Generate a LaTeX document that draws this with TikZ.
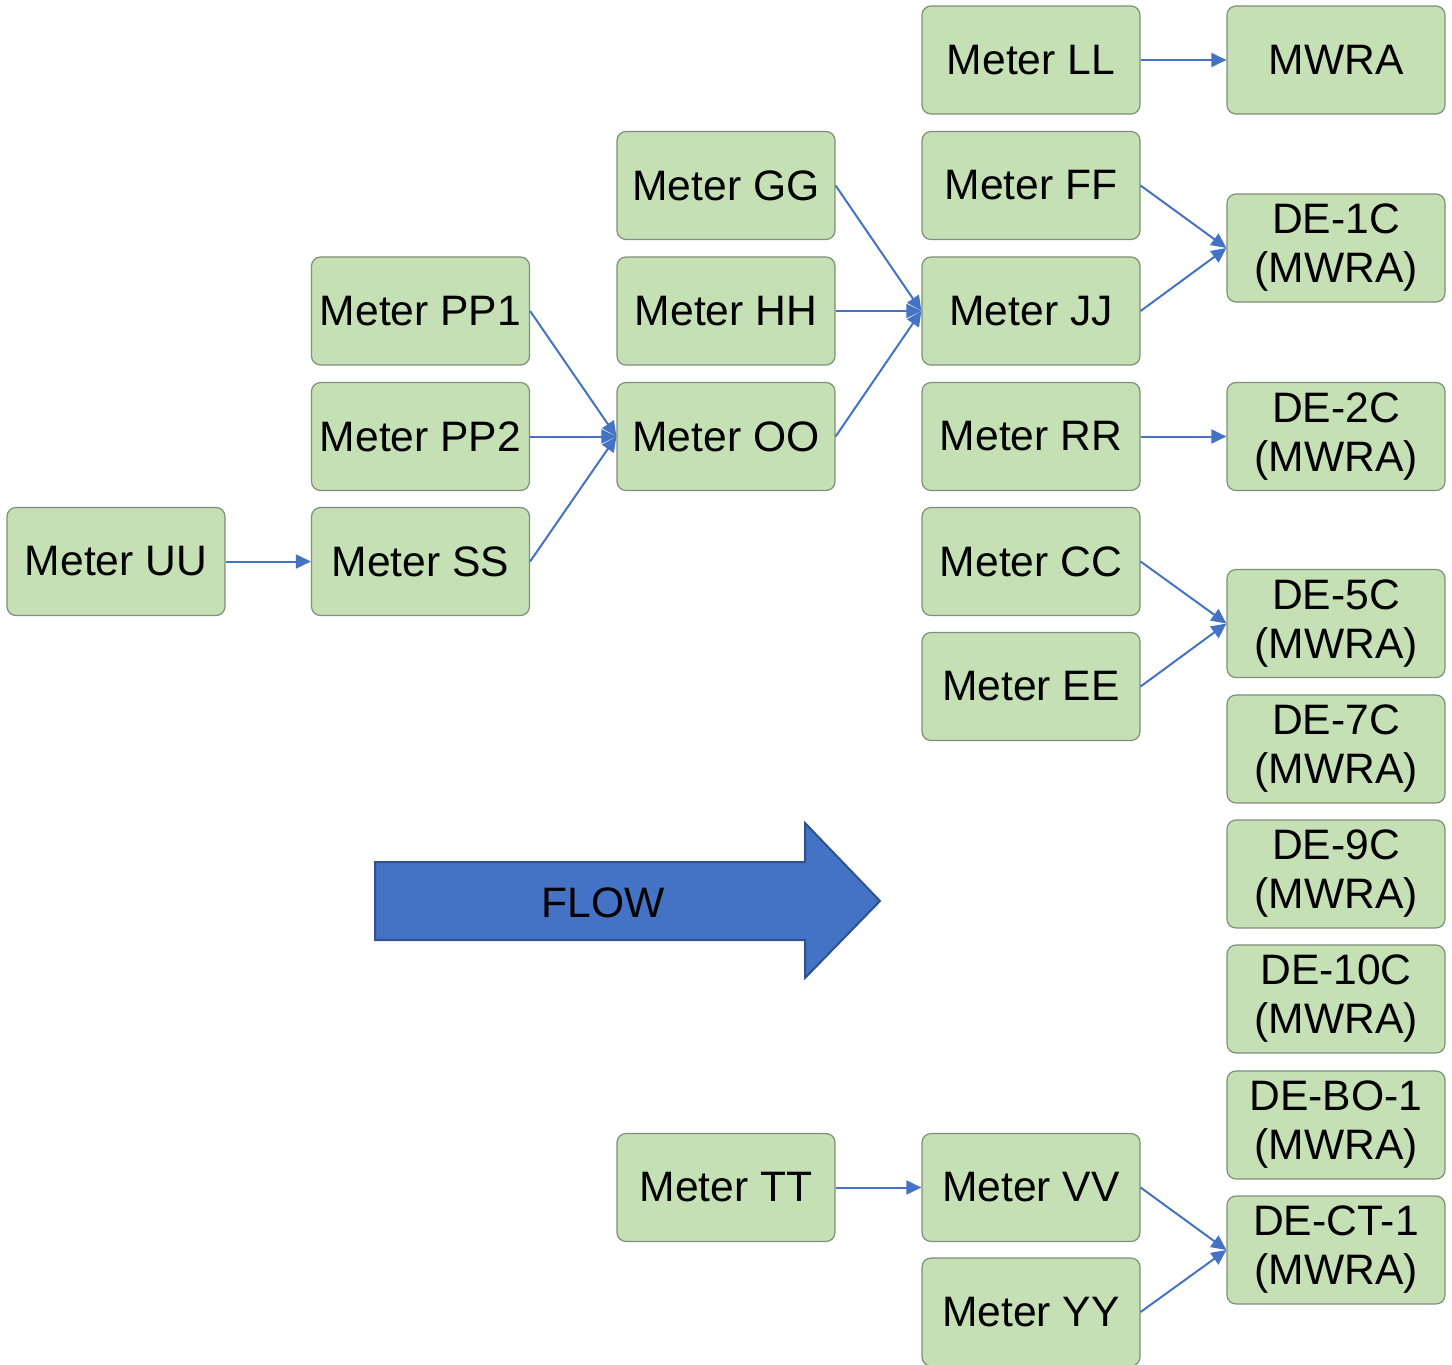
\documentclass[tikz,border=0pt]{standalone}
\usepackage{fontspec}
\setmainfont{Liberation Sans}
\usetikzlibrary{arrows.meta}
\definecolor{boxfill}{HTML}{C5E0B4}
\definecolor{boxdraw}{HTML}{7F8F78}
\definecolor{linkblue}{HTML}{4472C4}
\definecolor{flowdraw}{HTML}{2F528F}
\begin{document}
\begin{tikzpicture}[x=0.5pt,y=-0.5pt,
  box/.style={draw=boxdraw, line width=0.6pt, fill=boxfill, rounded corners=4.5pt,
    minimum width=109pt, minimum height=54pt, inner sep=0pt, align=center,
    font=\fontsize{21.3}{24.5}\selectfont},
  link/.style={draw=linkblue, line width=1pt, -{Triangle[length=7.5pt,width=7pt]}}]
\useasboundingbox (0,0) rectangle (1452,1365);
% column 1
\node[box] (UU) at (116,561.5) {Meter UU};
% column 2
\node[box] (PP1) at (420.5,311) {Meter PP1};
\node[box] (PP2) at (420.5,436.5) {Meter PP2};
\node[box] (SS) at (420.5,561.5) {Meter SS};
% column 3
\node[box] (GG) at (726,185.5) {Meter GG};
\node[box] (HH) at (726,311) {Meter HH};
\node[box] (OO) at (726,436.5) {Meter OO};
\node[box] (TT) at (726,1187.5) {Meter TT};
% column 4
\node[box] (LL) at (1031,60) {Meter LL};
\node[box] (FF) at (1031,185.5) {Meter FF};
\node[box] (JJ) at (1031,311) {Meter JJ};
\node[box] (RR) at (1031,436.5) {Meter RR};
\node[box] (CC) at (1031,561.5) {Meter CC};
\node[box] (EE) at (1031,686.5) {Meter EE};
\node[box] (VV) at (1031,1187.5) {Meter VV};
\node[box] (YY) at (1031,1312) {Meter YY};
% column 5
\node[box] (MWRA) at (1336,60) {MWRA};
\node[box] (DE1C) at (1336,248) {DE-1C\\(MWRA)};
\node[box] (DE2C) at (1336,436.5) {DE-2C\\(MWRA)};
\node[box] (DE5C) at (1336,623.5) {DE-5C\\(MWRA)};
\node[box] (DE7C) at (1336,749) {DE-7C\\(MWRA)};
\node[box] (DE9C) at (1336,874) {DE-9C\\(MWRA)};
\node[box] (DE10C) at (1336,999) {DE-10C\\(MWRA)};
\node[box] (DEBO) at (1336,1125) {DE-BO-1\\(MWRA)};
\node[box] (DECT) at (1336,1250) {DE-CT-1\\(MWRA)};
% connectors
\draw[link] (UU.east) -- (SS.west);
\draw[link] (PP1.east) -- (OO.west);
\draw[link] (PP2.east) -- (OO.west);
\draw[link] (SS.east) -- (OO.west);
\draw[link] (GG.east) -- (JJ.west);
\draw[link] (HH.east) -- (JJ.west);
\draw[link] (OO.east) -- (JJ.west);
\draw[link] (LL.east) -- (MWRA.west);
\draw[link] (FF.east) -- (DE1C.west);
\draw[link] (JJ.east) -- (DE1C.west);
\draw[link] (RR.east) -- (DE2C.west);
\draw[link] (CC.east) -- (DE5C.west);
\draw[link] (EE.east) -- (DE5C.west);
\draw[link] (TT.east) -- (VV.west);
\draw[link] (VV.east) -- (DECT.west);
\draw[link] (YY.east) -- (DECT.west);
% flow arrow
\draw[draw=flowdraw, fill=linkblue, line width=1pt]
  (375,862) -- (805,862) -- (805,823) -- (880,901) -- (805,978) -- (805,940) -- (375,940) -- cycle;
\node[font=\fontsize{21.3}{24.5}\selectfont, inner sep=0pt] (flow) at (603,903) {FLOW};
\end{tikzpicture}
\end{document}
